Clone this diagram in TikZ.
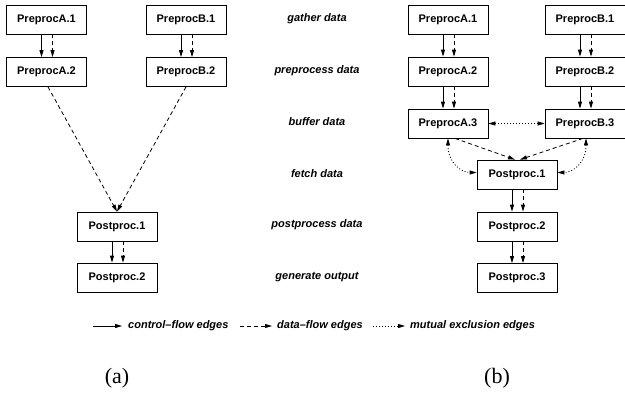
\documentclass[tikz,border=0pt]{standalone}
\usepackage{fontspec}
\setmainfont{Liberation Sans}
\newfontfamily\capfont{Liberation Serif}
\usetikzlibrary{arrows.meta}
\begin{document}
\begin{tikzpicture}[x=1pt,y=1pt,
  box/.style={draw, line width=0.8pt, minimum width=80pt, minimum height=29pt, inner sep=0pt, font=\fontsize{11}{13}\selectfont\bfseries},
  lbl/.style={font=\fontsize{11}{13}\selectfont\bfseries\itshape},
  subcap/.style={font=\capfont\fontsize{22}{26}\selectfont},
  tip/.tip={Triangle[length=7pt,width=4pt]},
  ctrl/.style={line width=0.8pt, -tip},
  dflow/.style={line width=0.8pt, dash pattern=on 4pt off 3pt, -tip},
  mutex/.style={line width=0.8pt, dash pattern=on 1pt off 2pt, tip-tip},
  mutexone/.style={line width=0.8pt, dash pattern=on 1pt off 2pt, -tip},
]
\useasboundingbox (0,0) rectangle (625,-397);
\newcommand\pairedge[2]{%
  \draw[ctrl] ([xshift=-5pt]#1.south) -- ([xshift=-5pt]#2.north);
  \draw[dflow] ([xshift=6pt]#1.south) -- ([xshift=6pt]#2.north);}
% (a)
\node[box] (LA1) at (46.5,-19.5) {PreprocA.1};
\node[box] (LA2) at (46.5,-72) {PreprocA.2};
\node[box] (LB1) at (186,-19.5) {PreprocB.1};
\node[box] (LB2) at (186,-72) {PreprocB.2};
\node[box] (LP1) at (117,-226.5) {Postproc.1};
\node[box] (LP2) at (117,-277.5) {Postproc.2};
\pairedge{LA1}{LA2}
\pairedge{LB1}{LB2}
\pairedge{LP1}{LP2}
\draw[dflow] ([xshift=1.5pt]LA2.south) -- (LP1.north);
\draw[dflow] (LB2.south) -- (LP1.north);
% labels
\node[lbl] (g1) at (317,-19) {gather data};
\node[lbl] (g2) at (317,-71) {preprocess data};
\node[lbl] (g3) at (317,-122) {buffer data};
\node[lbl] (g4) at (317,-174) {fetch data};
\node[lbl] (g5) at (317,-225) {postprocess data};
\node[lbl] (g6) at (317,-277) {generate output};
% (b)
\node[box] (RA1) at (448,-19.5) {PreprocA.1};
\node[box] (RA2) at (448,-71.5) {PreprocA.2};
\node[box] (RA3) at (448,-123.5) {PreprocA.3};
\node[box] (RB1) at (585,-19.5) {PreprocB.1};
\node[box] (RB2) at (585,-71.5) {PreprocB.2};
\node[box] (RB3) at (585,-123.5) {PreprocB.3};
\node[box] (RP1) at (517,-174.5) {Postproc.1};
\node[box] (RP2) at (517,-226.5) {Postproc.2};
\node[box] (RP3) at (517,-278) {Postproc.3};
\pairedge{RA1}{RA2}
\pairedge{RA2}{RA3}
\pairedge{RB1}{RB2}
\pairedge{RB2}{RB3}
\pairedge{RP1}{RP2}
\pairedge{RP2}{RP3}
\draw[mutex] (RA3.east) -- (RB3.west);
\draw[dflow] ([xshift=7pt]RA3.south) -- ([xshift=-2pt]RP1.north);
\draw[dflow] ([xshift=-2pt]RB3.south) -- ([xshift=3pt]RP1.north);
\draw[mutex] (RA3.south) .. controls +(0,-25) and +(-15,0) .. ([yshift=2pt]RP1.west);
\draw[mutex] ([xshift=1pt]RB3.south) .. controls +(0,-25) and +(15,0) .. ([yshift=2pt]RP1.east);
% legend
\coordinate (c1s) at (93,-326); \coordinate (c1e) at (122,-326);
\coordinate (c2s) at (240,-326); \coordinate (c2e) at (272,-326);
\coordinate (c3s) at (373,-326); \coordinate (c3e) at (405,-326);
\draw[ctrl] (c1s) -- (c1e);
\draw[dflow] (c2s) -- (c2e);
\draw[mutexone] (c3s) -- (c3e);
\node[lbl, anchor=west, inner sep=0pt] (t1) at (128,-326) {control\textendash flow edges};
\node[lbl, anchor=west, inner sep=0pt] (t2) at (277,-326) {data\textendash flow edges};
\node[lbl, anchor=west, inner sep=0pt] (t3) at (410,-326) {mutual exclusion edges};
\node[subcap] (ca) at (117,-378) {(a)};
\node[subcap] (cb) at (497,-378) {(b)};
\end{tikzpicture}
\end{document}
